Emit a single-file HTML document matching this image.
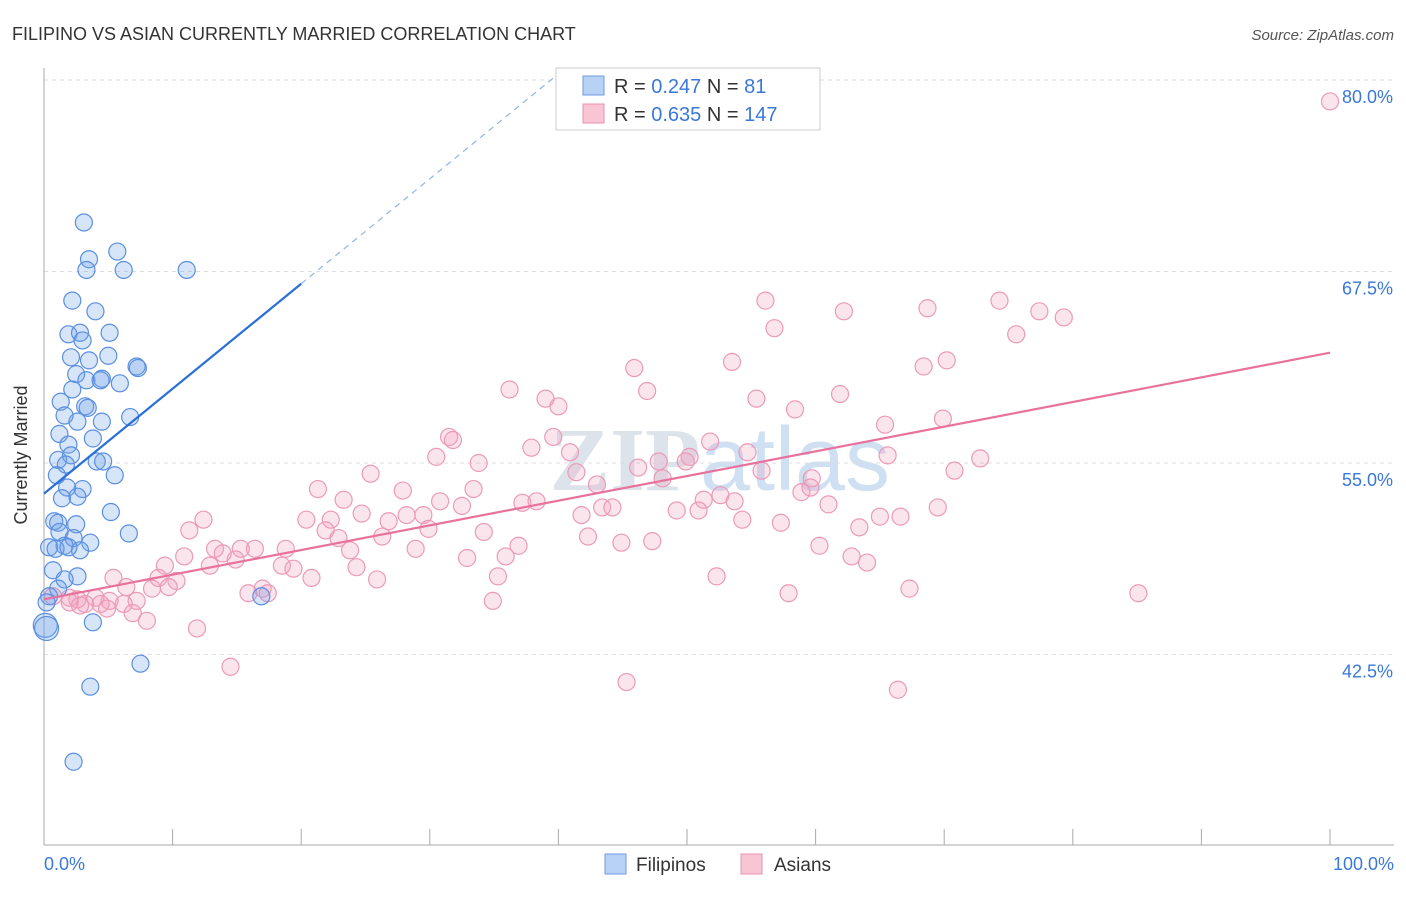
<!DOCTYPE html>
<html><head><meta charset="utf-8"><style>
body{margin:0;background:#fff;font-family:"Liberation Sans",sans-serif;}
</style></head><body>
<svg width="1406" height="892" xmlns="http://www.w3.org/2000/svg">
<text x="12" y="40" font-size="18" fill="#333">FILIPINO VS ASIAN CURRENTLY MARRIED CORRELATION CHART</text>
<text x="1394" y="40" font-size="15" fill="#555" text-anchor="end" font-style="italic">Source: ZipAtlas.com</text>
<text x="720" y="490" font-size="90" fill="#dde3ea" text-anchor="middle" font-weight="bold" font-family="Liberation Serif,serif">ZIP<tspan fill="#cfe0f3" font-family="Liberation Sans,sans-serif" font-weight="normal">atlas</tspan></text>
<g id="grid"></g>
<g id="axes"></g>
<g id="pts"></g>
<g id="lines"></g>
<g>
<rect x="556" y="68" width="264" height="62" fill="#fff" stroke="#ccc"/>
<rect x="583" y="76" width="21" height="19" fill="#b7d2f5" stroke="#6f9be0"/>
<rect x="583" y="104" width="21" height="19" fill="#f8c5d5" stroke="#e890b0"/>
<text x="614" y="93" font-size="20" fill="#333">R = <tspan fill="#3a78d8">0.247</tspan>   N =   <tspan fill="#3a78d8">81</tspan></text>
<text x="614" y="121" font-size="20" fill="#333">R = <tspan fill="#3a78d8">0.635</tspan>   N = <tspan fill="#3a78d8">147</tspan></text>
</g>
<g>
<rect x="605" y="854" width="21" height="20" fill="#b7d2f5" stroke="#6f9be0"/>
<text x="636" y="871" font-size="19" fill="#333">Filipinos</text>
<rect x="741" y="854" width="21" height="20" fill="#f8c5d5" stroke="#e890b0"/>
<text x="774" y="871" font-size="19" fill="#333">Asians</text>
</g>
<text x="27" y="455" font-size="18" fill="#333" text-anchor="middle" transform="rotate(-90 27 455)">Currently Married</text>
</svg>
<script>
const yTicks=[80,67.5,55,42.5];
const xTickLabels=["0.0%","100.0%"];
const blueX=[3.1,5.7,3.5,3.3,6.2,11.1,2.2,4.0,1.9,2.8,5.1,3.0,2.1,3.5,5.0,7.2,7.3,2.5,3.3,4.5,5.9,4.4,2.2,1.3,3.2,3.4,1.6,2.6,4.5,6.7,1.2,3.8,1.9,1.1,2.1,4.1,4.6,1.7,1.0,5.5,3.0,1.8,1.4,2.6,5.2,0.8,1.1,2.5,1.2,6.6,2.3,1.6,0.4,3.6,0.9,2.8,1.9,0.7,2.6,1.6,1.1,0.4,0.2,16.9,3.8,0.1,0.2,7.5,3.6,2.3];
const blueY=[70.7,68.8,68.3,67.6,67.6,67.6,65.6,64.9,63.4,63.5,63.5,63.0,61.9,61.7,62.0,61.3,61.2,60.8,60.4,60.5,60.2,60.4,59.8,59.0,58.7,58.6,58.1,57.7,57.7,58.0,56.9,56.6,56.2,55.2,55.5,55.1,55.1,54.9,54.2,54.2,53.3,53.4,52.7,52.8,51.8,51.2,51.1,51.0,50.5,50.4,50.1,49.6,49.5,49.8,49.4,49.3,49.5,48.0,47.6,47.4,46.8,46.3,45.9,46.3,44.6,44.4,44.2,41.9,40.4,35.5];
const pinkX=[100,56.1,74.3,68.7,62.2,77.4,79.3,56.8,75.6,53.5,70.2,68.4,45.9,36.2,46.9,39.0,40.0,55.4,61.9,58.4,69.9,65.4,31.5,31.8,39.6,37.9,51.8,40.9,30.5,33.8,50.2,54.7,72.8,65.6,47.8,49.9,41.4,46.2,55.8,25.4,70.8,48.1,59.7,59.6,43.0,21.3,27.9,33.4,58.9,52.6,51.3,30.8,38.3,23.3,53.7,37.2,32.5,43.4,44.2,49.2,50.9,61.0,69.5,24.7,28.2,41.8,29.5,12.4,20.4,22.3,26.8,65.0,66.6,54.3,57.3,63.4,11.3,29.9,21.9,22.9,34.2,26.3,42.3,44.9,47.3,36.9,60.3,23.8,13.3,15.3,13.9,16.4,18.8,28.9,10.9,14.9,35.9,32.9,62.8,64.0,18.5,12.9,9.4,19.4,24.3,20.8,8.9,10.3,5.4,25.9,35.3,52.3,9.7,6.4,8.4,17.0,17.4,15.9,67.3,85.1,57.9,0.7,2.0,4.0,2.6,5.1,3.2,2.0,7.2,2.8,4.4,6.2,34.9,4.9,6.9,8.0,11.9,14.5,45.3,66.4];
const pinkY=[78.6,65.6,65.6,65.1,64.9,64.9,64.5,63.8,63.4,61.6,61.7,61.3,61.2,59.8,59.7,59.2,58.7,59.2,59.5,58.5,57.9,57.5,56.7,56.5,56.7,56.0,56.4,55.7,55.4,55.0,55.4,55.7,55.3,55.5,55.1,55.1,54.4,54.7,54.5,54.3,54.5,54.0,54.0,53.4,53.6,53.3,53.2,53.3,53.1,52.9,52.6,52.5,52.5,52.6,52.5,52.4,52.2,52.1,52.1,51.9,51.9,52.3,52.1,51.7,51.6,51.6,51.6,51.3,51.3,51.3,51.2,51.5,51.5,51.3,51.1,50.8,50.6,50.7,50.6,50.1,50.5,50.2,50.2,49.8,49.9,49.6,49.6,49.3,49.4,49.4,49.1,49.4,49.4,49.4,48.9,48.7,48.9,48.8,48.9,48.5,48.3,48.3,48.3,48.1,48.2,47.5,47.5,47.3,47.5,47.4,47.6,47.6,46.9,46.9,46.8,46.8,46.5,46.5,46.8,46.5,46.5,46.3,46.2,46.2,46.1,46.0,45.8,45.9,46.0,45.7,45.8,45.8,46.0,45.5,45.2,44.7,44.2,41.7,40.7,40.2];
const blueTrend=[53.0,0.685];
const pinkTrend=[46.1,0.161];
const NS="http://www.w3.org/2000/svg";
const sx=v=>44+v*12.86, sy=v=>80+(80-v)*15.32;
function mk(t,a,p){const e=document.createElementNS(NS,t);for(const k in a)e.setAttribute(k,a[k]);p.appendChild(e);return e;}
const grid=document.getElementById('grid'),axes=document.getElementById('axes');
yTicks.forEach(v=>{
 const l=mk('line',{x1:44,x2:1394,y1:sy(v),y2:sy(v),stroke:'#ddd','stroke-dasharray':'4,4'},grid);
 
 
 const t=mk('text',{x:1393,y:sy(v)+23,'font-size':18,fill:'#3a78d8','text-anchor':'end'},axes);
 t.textContent=v.toFixed(1)+'%';
 
 
});
mk('line',{x1:44,x2:44,y1:68,y2:845,stroke:'#aaa'},axes);
mk('line',{x1:44,x2:1394,y1:845,y2:845,stroke:'#aaa'},axes);
for(let i=0;i<=10;i++){const tk=mk('line',{x1:sx(i*10),x2:sx(i*10),y1:829,y2:845,stroke:'#aaa'},axes);
 
 }
[[0,'start',44],[100,'end',1394]].forEach((d,i)=>{const t=mk('text',{x:d[2],y:870,'font-size':18,fill:'#3a78d8','text-anchor':d[1]},axes);t.textContent=xTickLabels[i];
 
 });
const pts=document.getElementById('pts');
pinkX.forEach((x,i)=>{const c=mk('circle',{cx:sx(x),cy:sy(pinkY[i]),r:8.5,fill:'rgba(242,160,190,0.28)',stroke:'#ec9ab8','stroke-width':1.2},pts);
 
 });
blueX.forEach((x,i)=>{const c=mk('circle',{cx:sx(x),cy:sy(blueY[i]),r:(x<0.5&&blueY[i]<45)?12:8.5,fill:'rgba(110,160,235,0.28)',stroke:'#5b8fe0','stroke-width':1.2},pts);
 
 });
const lines=document.getElementById('lines');
const bl=mk('line',{x1:sx(0),y1:sy(blueTrend[0]),x2:sx(20),y2:sy(blueTrend[0]+20*blueTrend[1]),stroke:'#2a6fd6','stroke-width':2.2},lines);


const bd=mk('line',{x1:sx(20),y1:sy(blueTrend[0]+20*blueTrend[1]),x2:sx(39.7),y2:sy(blueTrend[0]+39.7*blueTrend[1]),stroke:'#8fb3ea','stroke-width':1.2,'stroke-dasharray':'6,5'},lines);


const pl=mk('line',{x1:sx(0),y1:sy(pinkTrend[0]),x2:sx(100),y2:sy(pinkTrend[0]+100*pinkTrend[1]),stroke:'#e8729c','stroke-width':2.2},lines);


</script>
</body></html>
